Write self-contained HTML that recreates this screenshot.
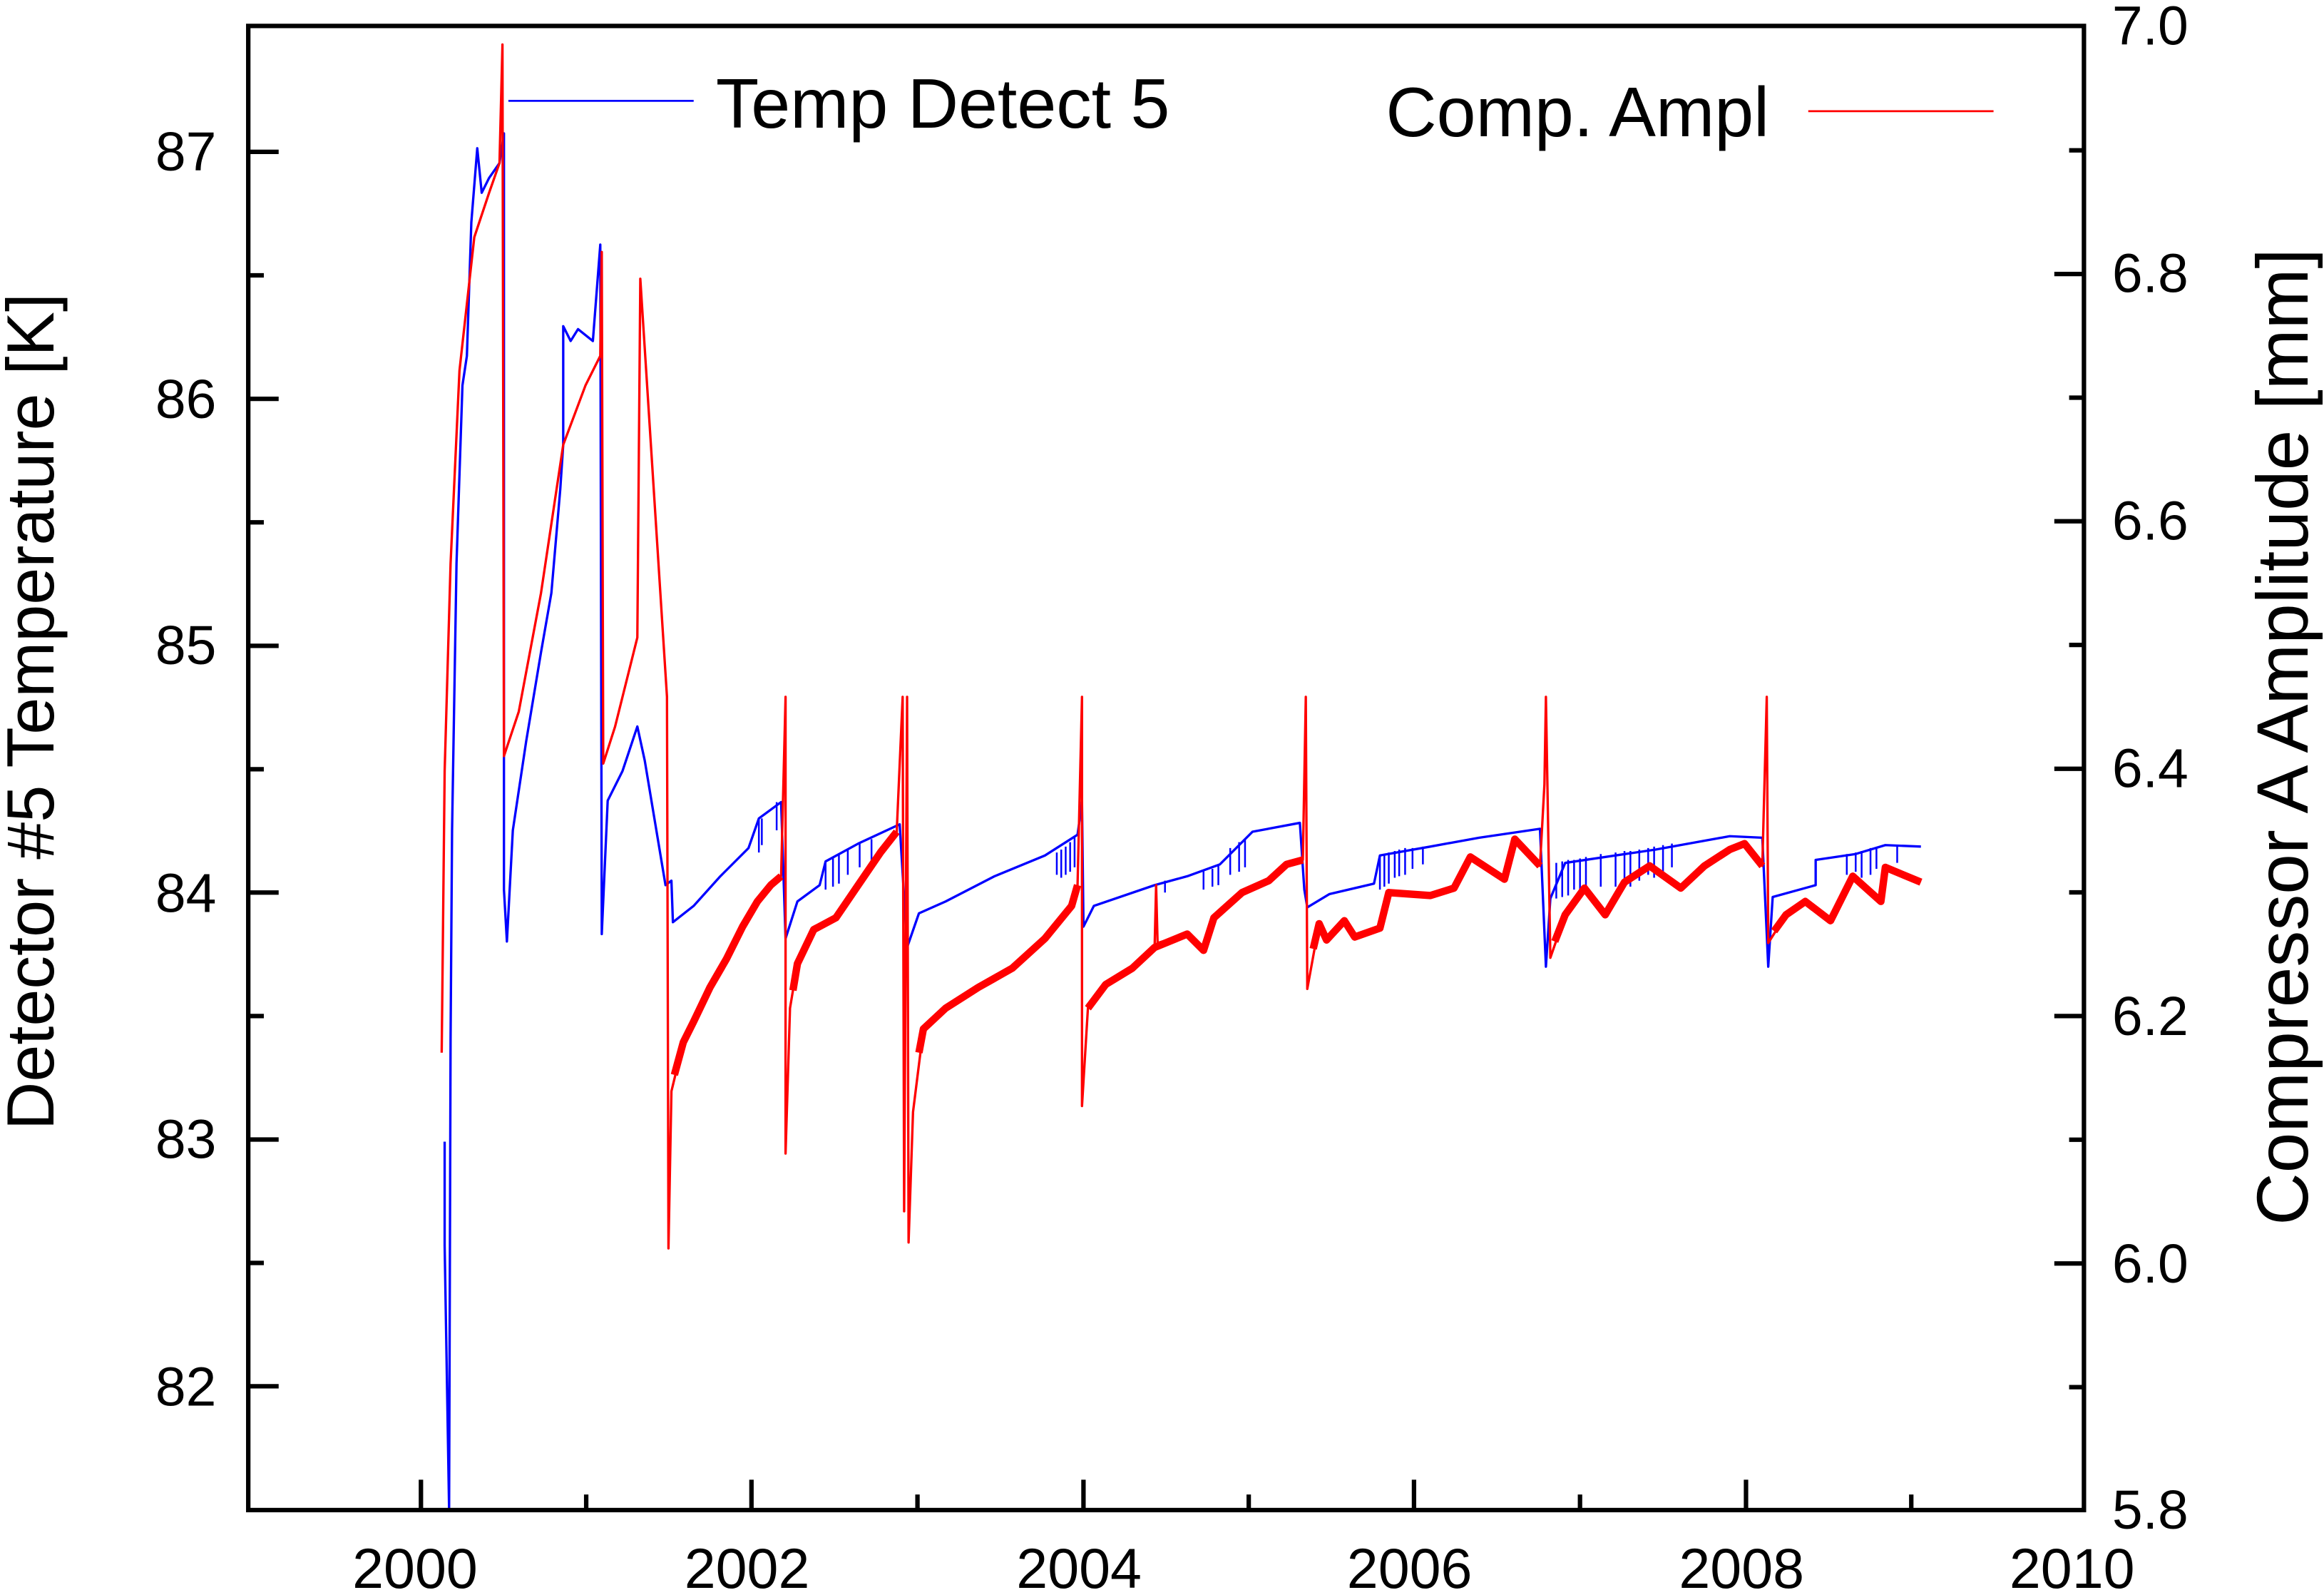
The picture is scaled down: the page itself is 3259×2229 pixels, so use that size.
<!DOCTYPE html>
<html><head><meta charset="utf-8"><style>
html,body{margin:0;padding:0;background:#fff}
svg{display:block}
text{font-family:"Liberation Sans",Arial,sans-serif;fill:#000}
</style></head><body>
<svg width="3259" height="2229" viewBox="0 0 3259 2229" xmlns="http://www.w3.org/2000/svg">
<g transform="scale(2.0785)">
<polyline fill="none" stroke="#0000ff" stroke-width="1.6" stroke-linejoin="round" points="
300,770 300,840 303,1018 304,700 305,560 308,380 312,260 315,240 318,150 322,100 325,130 330,120 337,110 340,90
340,600 342,635 346,560 355,500 365,440 372,400 378,330 380,300 380,220 385,230 390,222 400,230 405,165 406,630
410,540 420,520 430,490 435,513 449,597 453,594 454,622 468,611 486,591 505,572 512,552 527,541 530,633 538,608
553,597 557,581 579,569 607,556 612,639 620,616 638,608 671,591 705,577 727,563 730,541 731,625 738,611 779,597
801,591 823,583 845,561 877,555 880,600 882,612 897,603 927,596 931,577 965,571 998,565 1039,559 1043,652 1046,606
1056,582 1117,573 1167,564 1189,565 1193,652 1196,605 1225,597 1225,580 1252,576 1272,570 1296,571"/>
<path fill="none" stroke="#0000ff" stroke-width="1.2" d="
M512,552V575 M514,552V570 M524,541V560 M557,581V600 M562,578V598 M566,576V596 M572,573V590 M580,569V585 M588,566V582
M713,575V590 M716,573V592 M719,571V590 M722,568V588 M725,565V585
M786,594V602 M812,587V600 M818,586V598 M822,584V597 M830,572V590 M836,568V588 M840,566V585
M931,577V600 M934,576V598 M937,575V596 M941,574V592 M944,573V591 M948,572V590 M953,572V586 M960,571V583
M1050,582V606 M1054,581V605 M1058,580V604 M1062,580V600 M1066,579V603 M1070,578V598 M1080,576V598 M1090,575V598
M1096,574V596 M1100,574V598 M1106,573V594 M1112,572V590 M1116,571V592 M1122,570V590 M1128,569V585
M1246,576V590 M1252,575V588 M1256,574V592 M1262,572V590 M1266,572V586 M1280,570V582"/>
<polyline fill="none" stroke="#ff0000" stroke-width="1.6" stroke-linejoin="round" points="
298,710 300,520 304,380 310,250 320,160 330,130 337,110 339,30 340,510 350,480 365,400 380,300 395,260 405,240
406,170 407,515 415,490 430,430 432,188 450,470 451,842 453,736 461,703 468,689 479,666 490,647 501,625 511,608
520,597 527,591 530,470 530,778 533,680 538,650 549,627 564,619 579,597 594,575 605,561 609,470 610,817 612,470
613,838 616,750 623,694 638,680 660,666 683,653 705,633 723,611 727,597 730,470 730,746 734,680 746,664 764,653
779,639 780,597 781,636 801,630 812,641 819,619 838,602 856,594 868,583 879,580 881,470 882,667 890,623 895,634
907,621 914,632 931,626 937,602 965,604 981,599 992,578 1015,593 1022,566 1039,584 1042,529 1043,470 1046,646
1056,617 1069,599 1083,617 1096,595 1113,584 1134,599 1150,584 1167,573 1177,569 1189,584 1192,470 1193,636
1205,617 1218,608 1235,621 1250,591 1269,608 1272,585 1296,595"/>
<g fill="none" stroke="#ff0000" stroke-width="5" stroke-linejoin="round">
<polyline points="455,725 461,703 468,689 479,666 490,647 501,625 511,608 520,597 527,591"/>
<polyline points="535,668 538,650 549,627 564,619 579,597 594,575 605,561"/>
<polyline points="620,710 623,694 638,680 660,666 683,653 705,633 723,611 727,597"/>
<polyline points="734,680 746,664 764,653 779,639 801,630 812,641 819,619 838,602 856,594 868,583 879,580"/>
<polyline points="886,640 890,623 895,634 907,621 914,632 931,626 937,602 965,604 981,599 992,578 1015,593 1022,566 1039,584"/>
<polyline points="1049,635 1056,617 1069,599 1083,617 1096,595 1113,584 1134,599 1150,584 1167,573 1177,569 1189,584"/>
<polyline points="1197,628 1205,617 1218,608 1235,621 1250,591 1269,608 1272,585 1296,595"/>
</g>

<rect x="167.5" y="17.5" width="1238.5" height="1001" fill="none" stroke="#000" stroke-width="3"/>
<g stroke="#000" stroke-width="3">
<line x1="167" y1="935" x2="188" y2="935"/><line x1="167" y1="768.6" x2="188" y2="768.6"/>
<line x1="167" y1="602" x2="188" y2="602"/><line x1="167" y1="435.6" x2="188" y2="435.6"/>
<line x1="167" y1="269" x2="188" y2="269"/><line x1="167" y1="102.4" x2="188" y2="102.4"/>
<line x1="167" y1="851.8" x2="178" y2="851.8"/><line x1="167" y1="685.3" x2="178" y2="685.3"/>
<line x1="167" y1="518.8" x2="178" y2="518.8"/><line x1="167" y1="352.3" x2="178" y2="352.3"/>
<line x1="167" y1="185.7" x2="178" y2="185.7"/>
<line x1="1386" y1="184.8" x2="1406" y2="184.8"/><line x1="1386" y1="351.6" x2="1406" y2="351.6"/>
<line x1="1386" y1="518.5" x2="1406" y2="518.5"/><line x1="1386" y1="685.3" x2="1406" y2="685.3"/>
<line x1="1386" y1="852.2" x2="1406" y2="852.2"/>
<line x1="1396" y1="101.4" x2="1406" y2="101.4"/><line x1="1396" y1="268.2" x2="1406" y2="268.2"/>
<line x1="1396" y1="435" x2="1406" y2="435"/><line x1="1396" y1="601.9" x2="1406" y2="601.9"/>
<line x1="1396" y1="768.7" x2="1406" y2="768.7"/><line x1="1396" y1="935.6" x2="1406" y2="935.6"/>
<line x1="284" y1="1018" x2="284" y2="998"/><line x1="507" y1="1018" x2="507" y2="998"/>
<line x1="731" y1="1018" x2="731" y2="998"/><line x1="954" y1="1018" x2="954" y2="998"/>
<line x1="1178" y1="1018" x2="1178" y2="998"/>
<line x1="395.5" y1="1018" x2="395.5" y2="1008"/><line x1="619" y1="1018" x2="619" y2="1008"/>
<line x1="842.5" y1="1018" x2="842.5" y2="1008"/><line x1="1066" y1="1018" x2="1066" y2="1008"/>
<line x1="1289.5" y1="1018" x2="1289.5" y2="1008"/>
</g>
<g font-size="37" text-anchor="end">
<text x="146" y="948">82</text><text x="146" y="781">83</text><text x="146" y="615">84</text>
<text x="146" y="448">85</text><text x="146" y="282">86</text><text x="146" y="115">87</text>
</g>
<g font-size="37" text-anchor="start">
<text x="1425" y="1031">5.8</text><text x="1425" y="865">6.0</text><text x="1425" y="698">6.2</text>
<text x="1425" y="531">6.4</text><text x="1425" y="364">6.6</text><text x="1425" y="197">6.8</text>
<text x="1425" y="30">7.0</text>
</g>
<g font-size="38" text-anchor="middle">
<text x="280" y="1071">2000</text><text x="504" y="1071">2002</text><text x="728" y="1071">2004</text>
<text x="951" y="1071">2006</text><text x="1175" y="1071">2008</text><text x="1398" y="1071">2010</text>
</g>
<text font-size="45" text-anchor="middle" transform="translate(36,480) rotate(-90)">Detector #5 Temperature [K]</text>
<text font-size="49" text-anchor="middle" transform="translate(1557,497) rotate(-90)">Compressor A  Amplitude [mm]</text>
<line x1="343" y1="68" x2="468" y2="68" stroke="#0000ff" stroke-width="1.3"/>
<text x="483" y="86" font-size="47.5">Temp Detect 5</text>
<text x="935" y="92" font-size="47.5">Comp. Ampl</text>
<line x1="1220" y1="75" x2="1345" y2="75" stroke="#ff0000" stroke-width="1.3"/>
</g>
</svg>
</body></html>
